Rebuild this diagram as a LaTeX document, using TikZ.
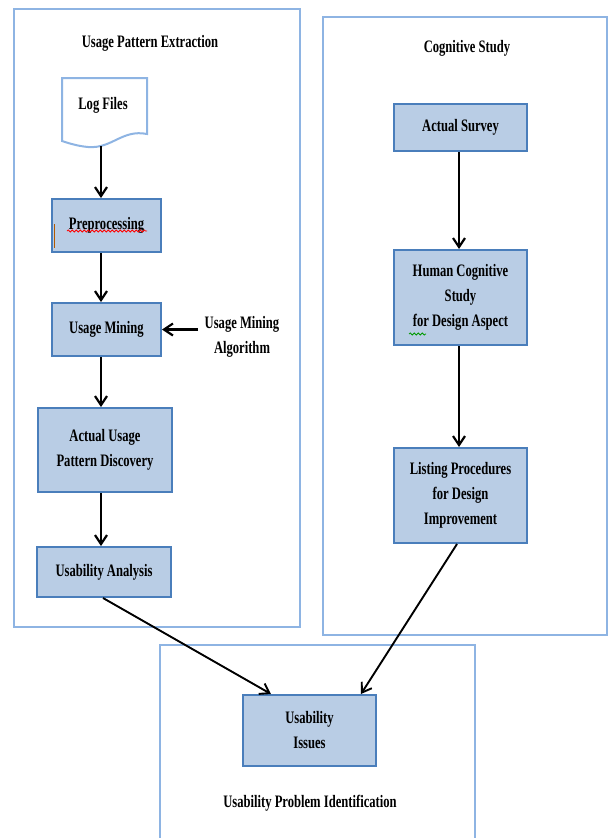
\documentclass[tikz,border=0pt]{standalone}
\usepackage{fontspec}
\setmainfont[FakeStretch=0.72]{Liberation Serif}
\usetikzlibrary{arrows.meta,decorations.pathmorphing}
\definecolor{boxfill}{HTML}{B9CDE5}
\definecolor{boxline}{HTML}{4A7EBB}
\definecolor{contline}{HTML}{8EB4E3}
\begin{document}
\begin{tikzpicture}[x=1pt,y=-1pt,
  every node/.style={font=\fontsize{17.5}{25}\selectfont\bfseries, align=center},
  stepbox/.style={draw=boxline, fill=boxfill, line width=2pt, inner sep=0pt},
  cont/.style={draw=contline, line width=2pt},
  arr/.style={line width=2.2pt, -{Straight Barb[length=9pt,width=12pt]}},
  darr/.style={line width=1.9pt, -{Straight Barb[length=9pt,width=12pt]}},
  squig/.style={decorate, decoration={snake, segment length=4pt, amplitude=1pt}, line width=0.8pt}]
\useasboundingbox (0,0) rectangle (609,838);
% containers
\draw[cont] (14,9) rectangle (300,627);
\draw[cont] (323,17) rectangle (607,635);
\draw[cont] (160,838) -- (160,645) -- (475,645) -- (475,838);
% titles
\node (t1) at (150,43) {Usage Pattern Extraction};
\node (t2) at (467,48) {Cognitive Study};
\node (t3) at (310,803) {Usability Problem Identification};
% log files document
\draw[draw=contline, line width=2pt, fill=white] (62,78) -- (147,78) -- (147,134)
  .. controls (122,129) and (112,149) .. (88,147)
  .. controls (77,146) and (68,143) .. (62,141) -- cycle;
\node (logf) at (103,105) {Log Files};
\coordinate (logbot) at (101,146);
% left boxes
\node[stepbox, minimum width=109pt, minimum height=53pt] (pre) at (106.5,225.5) {Preprocessing};
\node[stepbox, minimum width=109pt, minimum height=53pt] (um) at (106.5,329.5) {Usage Mining};
\node (alg) at (242,337) {Usage Mining\\Algorithm};
\node[stepbox, minimum width=134pt, minimum height=84pt] (aup) at (105,450) {Actual Usage\\Pattern Discovery};
\node[stepbox, minimum width=134pt, minimum height=50pt] (ua) at (104,572) {Usability Analysis};
% right boxes
\node[stepbox, minimum width=133pt, minimum height=47pt] (as) at (460.5,127.5) {Actual Survey};
\node[stepbox, minimum width=133pt, minimum height=95pt] (hc) at (460.5,297.5) {Human Cognitive\\Study\\for Design Aspect};
\node[stepbox, minimum width=133pt, minimum height=95pt] (lp) at (460.5,495.5) {Listing Procedures\\for Design\\Improvement};
% bottom box
\node[stepbox, minimum width=133pt, minimum height=71pt] (ui) at (309.5,730.5) {Usability\\Issues};
% spell-check marks
\draw[red, squig] (67,231) -- (147,231);
\draw[green!60!black, squig] (409,334) -- (426,334);
\draw[orange!70!black, line width=1pt] (54,224) -- (54,248);
% connectors
\draw[arr] (logbot) -- (logbot |- pre.north);
\draw[arr] (logbot |- pre.south) -- (logbot |- um.north);
\draw[arr] ([xshift=-3pt]alg.west |- um.east) -- (um.east);
\draw[arr] (logbot |- um.south) -- (logbot |- aup.north);
\draw[arr] (logbot |- aup.south) -- (logbot |- ua.north);
\draw[darr] ([xshift=-1pt]ua.south) -- ([xshift=29pt]ui.north west);
\draw[arr] ([xshift=-1.5pt]as.south) -- ([xshift=-1.5pt]hc.north);
\draw[arr] ([xshift=-1.5pt]hc.south) -- ([xshift=-1.5pt]lp.north);
\draw[darr] ([xshift=-3.5pt]lp.south) -- ([xshift=-16pt]ui.north east);
\end{tikzpicture}
\end{document}
